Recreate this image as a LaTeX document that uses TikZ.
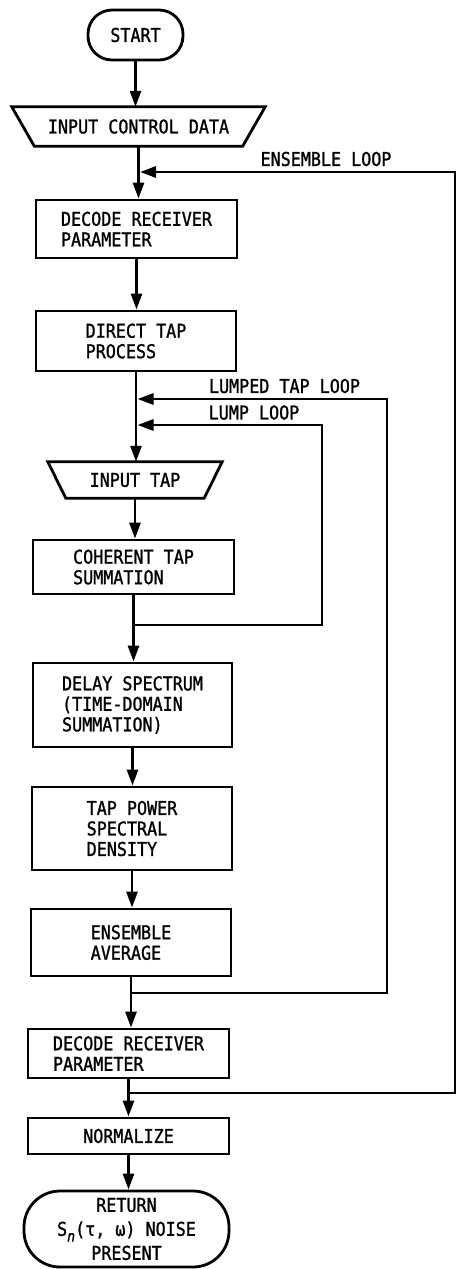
\documentclass[tikz,border=0pt]{standalone}
\usepackage{fontspec}
\setmainfont{DejaVu Sans Mono}[FakeStretch=0.88,FakeBold=1.2]
\usetikzlibrary{arrows.meta,calc}
\begin{document}
\begin{tikzpicture}[x=1pt,y=-1pt,
  every node/.style={font=\fontsize{19}{20.5}\selectfont},
  ln/.style={line width=2.8pt},
  arr/.style={ln,-{Triangle[width=11pt,length=16pt]}},
  box/.style={draw,line width=2.8pt,rectangle,inner sep=0pt,align=left},
  term/.style={draw,line width=2.8pt,rectangle,rounded corners=#1,inner sep=0pt,align=center},
  txt/.style={inner sep=0pt,align=center},
  lbl/.style={inner sep=0pt}]
\useasboundingbox (0,0) rectangle (458,1269);
\fill[white] (0,0) rectangle (458,1269);

% nodes
\node[term=24pt,minimum width=95pt,minimum height=50pt] (start) at (135.5,35) {START};
\node[txt,minimum width=208pt,minimum height=39pt] (icd) at (138.5,126.5) {INPUT CONTROL DATA};
\node[box,minimum width=201pt,minimum height=58pt] (dec1) at (136.5,229) {DECODE RECEIVER\\PARAMETER};
\node[box,minimum width=200pt,minimum height=60pt] (dtp) at (136,341) {DIRECT TAP\\PROCESS};
\node[txt,minimum width=138pt,minimum height=36pt] (itap) at (135,480) {INPUT TAP};
\node[box,minimum width=201pt,minimum height=54pt] (coh) at (133.5,567) {COHERENT TAP\\SUMMATION};
\node[box,minimum width=199pt,minimum height=84pt] (dly) at (132.5,705) {DELAY SPECTRUM\\(TIME-DOMAIN\\SUMMATION)};
\node[box,minimum width=200pt,minimum height=83pt] (tps) at (132,828.5) {TAP POWER\\SPECTRAL\\DENSITY};
\node[box,minimum width=200pt,minimum height=67pt] (ens) at (131,942.5) {ENSEMBLE\\AVERAGE};
\node[box,minimum width=201pt,minimum height=49pt] (dec2) at (128.5,1053.5) {DECODE RECEIVER\\PARAMETER};
\node[box,minimum width=201pt,minimum height=36pt,align=center] (norm) at (128.5,1136) {NORMALIZE};
\node[term=36pt,minimum width=205pt,minimum height=76pt,font=\fontsize{19}{24}\selectfont] (ret) at (126.5,1229) {RETURN\\S\raisebox{-0.3em}{\fontsize{15}{15}\selectfont\itshape n}(τ, ω) NOISE\\PRESENT};

% trapezoid outlines
\draw[ln,line join=miter] ($(icd.north west)+(-22.5,0)$) -- ($(icd.north east)+(22.5,0)$) -- (icd.south east) -- (icd.south west) -- cycle;
\draw[ln,line join=miter] ($(itap.north west)+(-18,0)$) -- ($(itap.north east)+(18,0)$) -- (itap.south east) -- (itap.south west) -- cycle;

% loop junction / corner coordinates
\coordinate (eR) at (455,172);
\coordinate (eB) at (455,1093);
\coordinate (ltR) at (387,399);
\coordinate (ltB) at (387,993);
\coordinate (lR) at (322,425);
\coordinate (lB) at (322,625);

% main flow
\draw[arr] (start.south) -- (start.south |- icd.north);
\draw[arr] (icd.south) -- (icd.south |- dec1.north);
\draw[arr] (dec1.south) -- (dec1.south |- dtp.north);
\draw[arr] (dtp.south) -- (dtp.south |- itap.north);
\draw[arr] (itap.south) -- (itap.south |- coh.north);
\draw[arr] (coh.south) -- (coh.south |- dly.north);
\draw[arr] (dly.south) -- (dly.south |- tps.north);
\draw[arr] (tps.south) -- (tps.south |- ens.north);
\draw[arr] (ens.south) -- (ens.south |- dec2.north);
\draw[arr] (dec2.south) -- (dec2.south |- norm.north);
\draw[arr] (norm.south) -- (norm.south |- ret.north);

% loops
\draw[arr,shorten >=1.5pt] (dec2.south |- eB) -- (eB) -- (eR) -- (icd.south |- eR);
\draw[arr,shorten >=1.5pt] (ens.south |- ltB) -- (ltB) -- (ltR) -- (dtp.south |- ltR);
\draw[arr,shorten >=1.5pt] (coh.south |- lB) -- (lB) -- (lR) -- (dtp.south |- lR);

% labels
\node[lbl] (lens) at (326,159) {ENSEMBLE LOOP};
\node[lbl] (llt) at (284.5,386) {LUMPED TAP LOOP};
\node[lbl] (ll) at (254,412.5) {LUMP LOOP};
\end{tikzpicture}
\end{document}
